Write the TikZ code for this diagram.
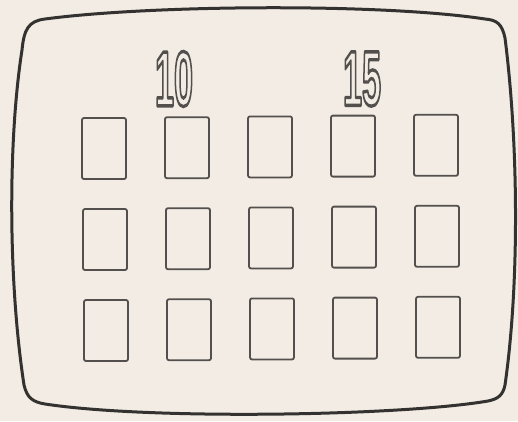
\documentclass[tikz,border=0pt]{standalone}
\usepackage{fontspec}
\newfontfamily\digitfont{Liberation Sans}
\definecolor{paper}{RGB}{242,236,228}
\definecolor{ink}{RGB}{52,50,48}
\definecolor{ink2}{RGB}{82,79,77}
\tikzset{
  screen/.style={draw=ink,line width=3pt,line join=round},
  cell/.style={draw=ink2,line width=1.8pt,rounded corners=2pt},
  digits/.style={inner sep=0pt,text=ink2,font=\digitfont\bfseries\fontsize{78}{78}\selectfont}
}
\newcommand{\stencil}[1]{\scalebox{0.44}[1]{\special{pdf:literal direct 1 Tr 3.4 w 1 j 0.32 0.31 0.30 RG}#1\special{pdf:literal direct 0 Tr}}}
\begin{document}
\begin{tikzpicture}[x=1pt,y=-1pt]
\fill[paper] (0,0) rectangle (518,421);
\useasboundingbox (0,0) rectangle (518,421);
\draw[screen] (22,50) .. controls (24,30) and (28,21) .. (45,19)
  .. controls (150,5) and (380,3) .. (485,19)
  .. controls (497,20) and (502,24) .. (505,38)
  .. controls (518,140) and (520,280) .. (505,385)
  .. controls (503,395) and (498,399) .. (488,401)
  .. controls (400,416) and (150,420) .. (45,404)
  .. controls (33,402) and (27,398) .. (24,385)
  .. controls (8,280) and (8,140) .. (22,50) -- cycle;
\foreach \j in {0,1,2}{
  \foreach \i in {0,...,4}{
    \draw[cell] ({82+83*\i+\j},{118+91*\j-0.8*\i}) rectangle ++(44,61);
  }
}
\node[digits] (ten) at (174,79) {\stencil{10}};
\node[digits] (fifteen) at (362,79) {\stencil{15}};
\end{tikzpicture}
\end{document}
